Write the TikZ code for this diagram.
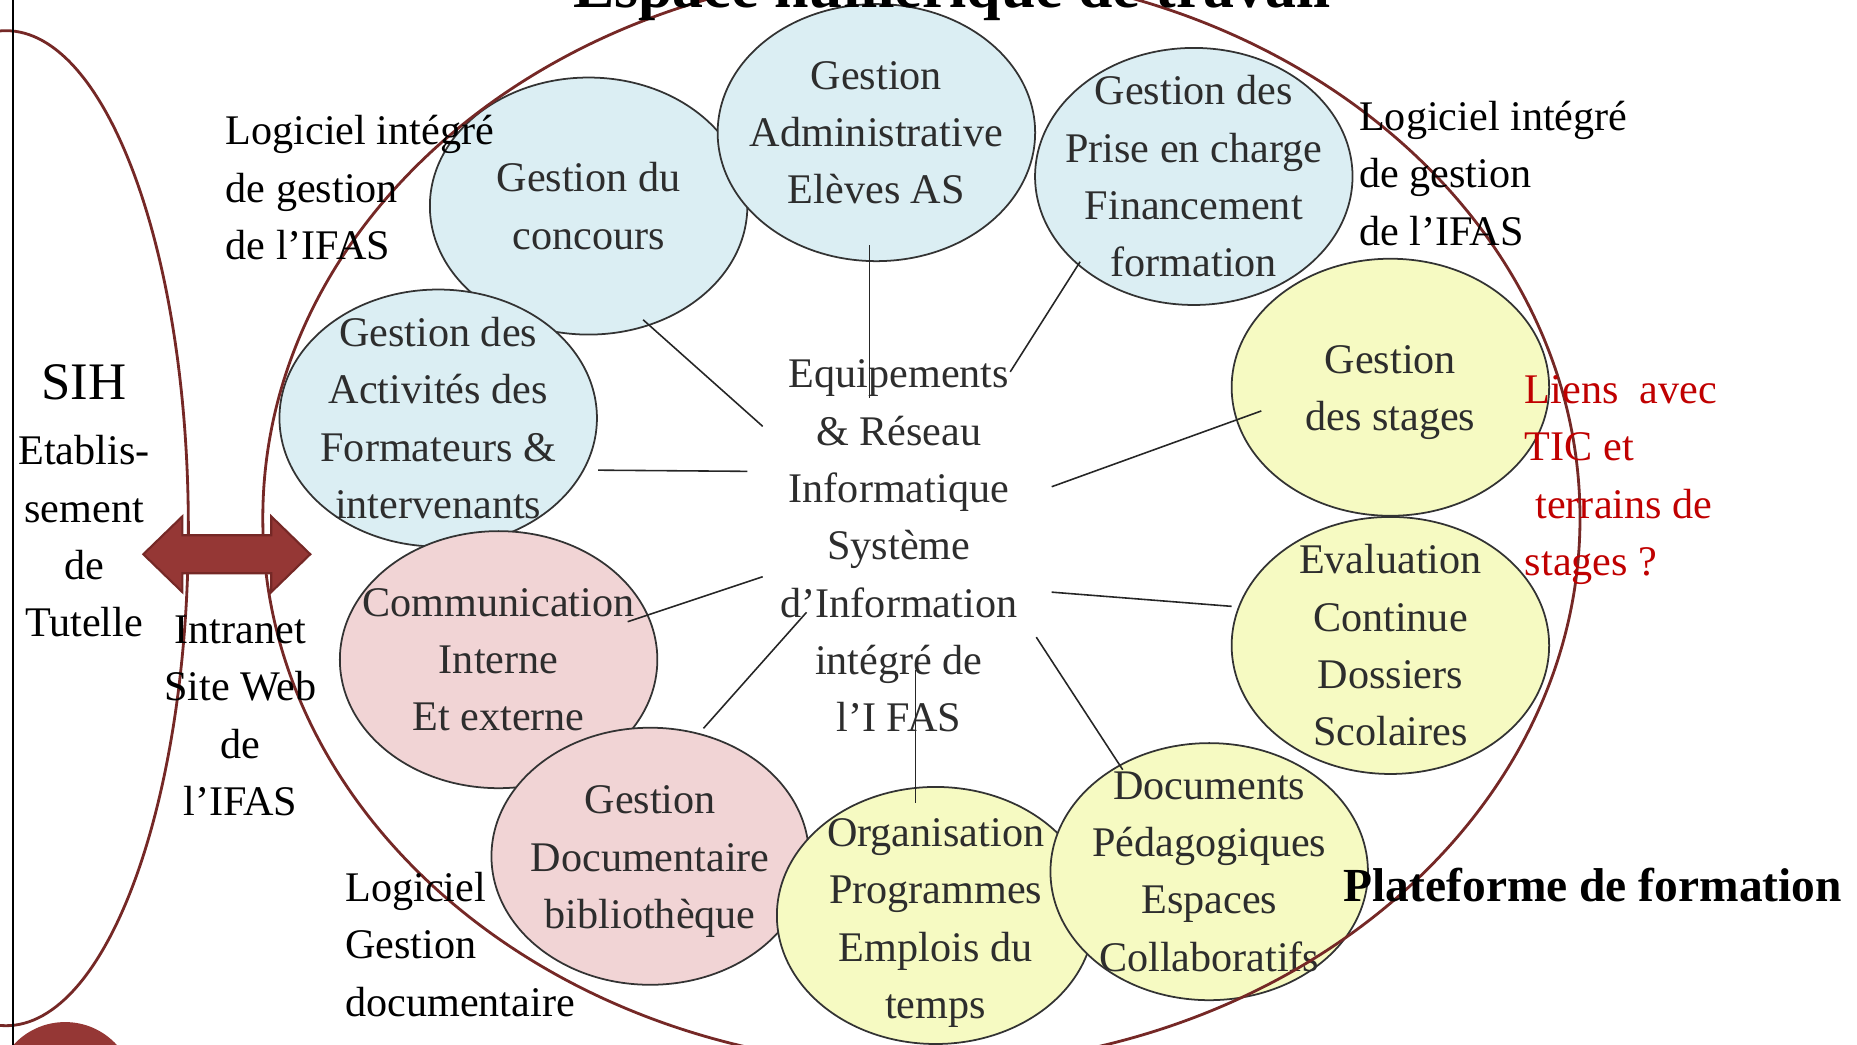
\documentclass[tikz,border=0pt]{standalone}
\usepackage{fontspec}
\setmainfont{Liberation Serif}
\usetikzlibrary{shapes.geometric}
\definecolor{bleuclair}{RGB}{219,238,243}
\definecolor{jaunepale}{RGB}{246,250,194}
\definecolor{rosepale}{RGB}{241,212,213}
\definecolor{bordeaux}{RGB}{117,40,38}
\definecolor{flecherouge}{RGB}{149,55,53}
\definecolor{rougelien}{RGB}{192,0,0}
\definecolor{gristexte}{RGB}{45,45,45}
\newcommand\taillecorps{\fontsize{12}{16.3}\selectfont}

\begin{document}
\begin{tikzpicture}[x=0.011843cm, y=-0.011843cm,
  bulle/.style={ellipse, draw=black!80, line width=0.5pt, minimum width=3.174cm, minimum height=2.57cm, inner sep=-8pt, align=center, text=gristexte, font=\taillecorps},
  texte/.style={align=center, inner sep=0pt, font=\taillecorps},
  legende/.style={align=left, anchor=west, inner sep=0pt, font=\taillecorps},
  lien/.style={black!85, line width=0.45pt},
  contour/.style={ellipse, draw=bordeaux, line width=0.8pt, inner sep=0pt}
]
  \useasboundingbox (0,0) rectangle (1568,882);
  \clip (0,0) rectangle (1568,882);

  \node[bulle, fill=bleuclair] (concours) at (497,174) {Gestion du\\concours};
  \node[bulle, fill=bleuclair] (admin) at (740,112) {Gestion\\Administrative\\Elèves AS};
  \node[bulle, fill=bleuclair] (financement) at (1008,149) {Gestion des\\Prise en charge\\Financement\\formation};
  \node[bulle, fill=bleuclair] (formateurs) at (370,353) {Gestion des\\Activités des\\Formateurs \&\\intervenants};
  \node[bulle, fill=jaunepale] (stages) at (1174,327) {\rule{0pt}{11pt}Gestion\\des stages};
  \node[bulle, fill=jaunepale] (evaluation) at (1174,545) {Evaluation\\Continue\\Dossiers\\Scolaires};
  \node[bulle, fill=rosepale] (communication) at (421,557) {Communication\\Interne\\Et externe};
  \node[bulle, fill=rosepale] (bibliotheque) at (549,723) {\rule{0pt}{11pt}Gestion\\Documentaire\\bibliothèque};
  \node[bulle, fill=jaunepale] (organisation) at (790,773) {\rule{0pt}{12.2pt}Organisation\\Programmes\\Emplois du\\temps};
  \node[bulle, fill=jaunepale] (pedagogie) at (1021,736) {Documents\\Pédagogiques\\Espaces\\Collaboratifs};

  \node[texte, text=gristexte] (sit) at (759,461) {Equipements\\\& Réseau\\Informatique\\Système\\d’Information\\intégré de\\l’I FAS};

  \draw[lien] ([shift={(46,96)}]concours.center) -- ([shift={(-115,-101)}]sit.center);
  \draw[lien] ([shift={(-6,95)}]admin.center) -- ([shift={(-25,-125)}]sit.center);
  \draw[lien] ([shift={(-96,72)}]financement.center) -- ([shift={(94,-147)}]sit.center);
  \draw[lien] ([shift={(135,44)}]formateurs.center) -- ([shift={(-128,-63)}]sit.center);
  \draw[lien] ([shift={(-109,20)}]stages.center) -- ([shift={(129,-50)}]sit.center);
  \draw[lien] ([shift={(129,39)}]sit.center) -- ([shift={(-134,-33)}]evaluation.center);
  \draw[lien] ([shift={(116,77)}]sit.center) -- ([shift={(-73,-86)}]pedagogie.center);
  \draw[lien] ([shift={(14,105)}]sit.center) -- ([shift={(-17,-95)}]organisation.center);
  \draw[lien] ([shift={(-78,56)}]sit.center) -- ([shift={(45,-108)}]bibliotheque.center);
  \draw[lien] ([shift={(-115,26)}]sit.center) -- ([shift={(109,-32)}]communication.center);

  \node[contour, minimum width=13.169cm, minimum height=10.967cm] (ent) at (778,437.5) {};
  \node[contour, minimum width=3.648cm, minimum height=9.948cm] (etab) at (5,446) {};

  \node[anchor=base, inner sep=0pt, font=\fontsize{17.6}{20}\selectfont\bfseries] (titre) at (804,6) {Espace numérique de travail};
  \node[texte, font=\fontsize{15}{18}\selectfont] (sih) at (71,323) {SIH};
  \node[texte] (tutelle) at (71,453) {Etablis-\\sement\\de\\Tutelle};
  \node[texte] (intranet) at (203,604.5) {Intranet\\Site Web\\de\\l’IFAS};
  \node[legende] (logicielg) at (190,158.5) {Logiciel intégré\\de gestion\\de l’IFAS};
  \node[legende] (logicield) at (1147,146.5) {Logiciel intégré\\de gestion\\de l’IFAS};
  \node[legende] (logicieldoc) at (291,797.5) {Logiciel\\Gestion\\documentaire};
  \node[legende, text=rougelien] (liens) at (1287,405.5) {Liens\ \ avec\\TIC et\\\ terrains de\\stages ?};
  \node[anchor=base west, inner sep=0pt, font=\fontsize{13.5}{16}\selectfont\bfseries] (plateforme) at (1134,761) {Plateforme de formation};

  \filldraw[fill=flecherouge, draw=bordeaux, line width=0.6pt] (121,468) -- (154,436) -- (154,452) -- (229,452) -- (229,436) -- (262,468) -- (229,500) -- (229,484) -- (154,484) -- (154,500) -- cycle;
  \fill[flecherouge] (55,922) circle [radius=59];
  \draw[black, line width=0.6pt] (11,0) -- (11,882);
\end{tikzpicture}
\end{document}
